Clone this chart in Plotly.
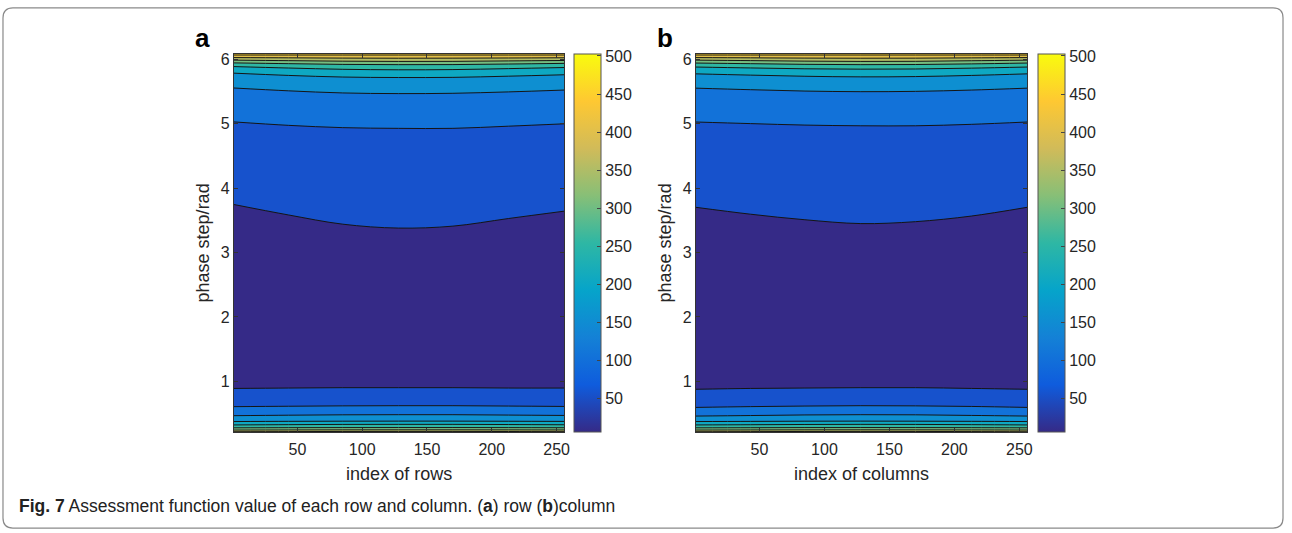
import plotly.graph_objects as go

# ---------------- data ----------------
x_cols = [1, 43, 85, 128, 170, 213, 256]

# panel a: phase-step rows and assessment values per column
y_a = [0.21, 0.245, 0.28, 0.33, 0.38, 0.48, 0.62, 0.90, 1.5, 2.2, 3.0, 3.38,
       4.93, 5.47, 5.72, 5.84, 5.92, 5.97, 6.02, 6.07, 6.09]
z_a = [
    [410, 415, 419, 420, 420, 417, 413],
    [343, 346, 349, 350, 350, 348, 345],
    [294, 297, 299, 300, 300, 298, 296],
    [240, 245, 249, 250, 250, 247, 243],
    [194, 197, 199, 200, 200, 198, 196],
    [142, 146, 149, 150, 150, 147, 144],
    [95, 97, 99, 100, 100, 98, 96],
    [48, 49, 50, 50, 50, 49, 49],
    [20, 20, 20, 20, 20, 20, 20],
    [7, 7, 7, 7, 7, 7, 7],
    [22, 26, 29, 30, 30, 27, 24],
    [37, 43, 48, 50, 49, 45, 41],
    [92, 96, 99, 100, 100, 97, 94],
    [135, 142, 148, 150, 149, 145, 140],
    [178, 188, 197, 200, 199, 192, 185],
    [217, 232, 245, 250, 248, 238, 227],
    [270, 284, 296, 300, 299, 290, 279],
    [325, 336, 346, 350, 349, 341, 332],
    [388, 393, 398, 400, 399, 396, 392],
    [450, 450, 450, 450, 450, 450, 450],
    [465, 467, 469, 470, 470, 468, 466],
]

# panel b
y_b = [0.21, 0.245, 0.28, 0.33, 0.38, 0.48, 0.62, 0.90, 1.5, 2.2, 3.0, 3.45,
       4.97, 5.5, 5.73, 5.85, 5.92, 5.97, 6.02, 6.07, 6.09]
z_b = [
    [410, 414, 418, 420, 419, 415, 410],
    [343, 346, 349, 350, 349, 347, 343],
    [294, 296, 299, 300, 299, 297, 294],
    [240, 244, 248, 250, 249, 245, 240],
    [194, 196, 199, 200, 199, 197, 194],
    [138, 143, 148, 150, 149, 144, 138],
    [91, 95, 98, 100, 99, 96, 91],
    [46, 48, 49, 50, 50, 48, 46],
    [20, 20, 20, 20, 20, 20, 20],
    [7, 7, 7, 7, 7, 7, 7],
    [22, 24, 27, 28, 27, 25, 22],
    [41, 45, 48, 50, 49, 46, 41],
    [95, 97, 99, 100, 100, 98, 95],
    [140, 144, 148, 150, 149, 145, 140],
    [182, 189, 196, 200, 198, 191, 182],
    [228, 237, 246, 250, 248, 239, 228],
    [275, 285, 295, 300, 298, 288, 275],
    [325, 335, 345, 350, 348, 338, 325],
    [388, 393, 398, 400, 399, 394, 388],
    [450, 450, 450, 450, 450, 450, 450],
    [465, 467, 469, 470, 470, 468, 465],
]

cbar_range = [6, 503]
cbar_ticks = [50, 100, 150, 200, 250, 300, 350, 400, 450, 500]
x_ticks = [50, 100, 150, 200, 250]
y_ticks = [1, 2, 3, 4, 5, 6]
x_titles = ["index of rows", "index of columns"]
panel_labels = ["a", "b"]

# ---------------- styling ----------------
parula = [
    [0.000, "#352a87"], [0.125, "#0f5cdd"], [0.250, "#1481d6"],
    [0.375, "#06a4ca"], [0.500, "#2eb7a4"], [0.625, "#87bf77"],
    [0.750, "#d1bb59"], [0.875, "#fec832"], [1.000, "#f9fb0e"],
]
W, H = 1292, 533
FONT = "Liberation Sans, Arial, sans-serif"
TXT = "#262626"

def px(v):
    return v / W

def py(v):
    return 1 - v / H

panels = [
    dict(x0=235, x1=567, cb=577),
    dict(x0=699, x1=1032, cb=1043),
]
ytop, ybot = 51, 431.5

fig = go.Figure()
datasets = [(y_a, z_a), (y_b, z_b)]
for i, (yy, zz) in enumerate(datasets):
    xa = "x" if i == 0 else "x2"
    ya = "y" if i == 0 else "y2"
    fig.add_trace(go.Contour(
        x=x_cols, y=yy, z=zz, xaxis=xa, yaxis=ya,
        colorscale=parula, showscale=False,
        contours=dict(start=50, end=500, size=50, coloring="fill"),
        line=dict(color="#151515", width=1.0),
        hoverinfo="skip",
    ))
    p = panels[i]
    fig.add_trace(go.Scatter(
        x=[None, None], y=[None, None], xaxis=xa, yaxis=ya, mode="markers",
        showlegend=False, hoverinfo="skip",
        marker=dict(
            color=cbar_range, cmin=cbar_range[0], cmax=cbar_range[1],
            colorscale=parula, showscale=True,
            colorbar=dict(
                x=px(p["cb"]), xanchor="left", xpad=0,
                y=py(ytop), yanchor="top", ypad=0,
                len=(ybot - ytop) / H, lenmode="fraction",
                thickness=27, thicknessmode="pixels",
                outlinewidth=1, outlinecolor="#555555",
                tickvals=cbar_ticks, ticks="inside", ticklen=4,
                tickcolor="#444444",
                tickfont=dict(family=FONT, size=16, color=TXT),
            ),
        ),
    ))

axis_common = dict(
    ticks="inside", ticklen=4, tickcolor="#333333", mirror="ticks",
    showline=True, linecolor="#333333", linewidth=1, showgrid=False,
    zeroline=False, tickfont=dict(family=FONT, size=16, color=TXT),
)
for i, p in enumerate(panels):
    sfx = "" if i == 0 else "2"
    fig.update_layout({
        "xaxis" + sfx: dict(
            axis_common, domain=[px(p["x0"]), px(p["x1"])], range=[1, 256],
            tickvals=x_ticks, anchor="y" + sfx, ticklabelstandoff=3,
            title=dict(text=x_titles[i], font=dict(family=FONT, size=18, color=TXT),
                       standoff=10),
        ),
        "yaxis" + sfx: dict(
            axis_common, domain=[py(ybot), py(ytop)], range=[0.21, 6.09],
            tickvals=y_ticks, anchor="x" + sfx,
            title=dict(text="phase step/rad", font=dict(family=FONT, size=18, color=TXT),
                       standoff=6),
        ),
    })
    fig.add_annotation(
        xref="paper", yref="paper", x=px(p["x0"] - 41), y=py(35),
        text="<b>%s</b>" % panel_labels[i], showarrow=False,
        xanchor="left", yanchor="middle",
        font=dict(family=FONT, size=26, color="#000000"),
    )

fig.add_annotation(
    xref="paper", yref="paper", x=px(17), y=py(506),
    text="<b>Fig. 7</b> Assessment function value of each row and column. (<b>a</b>) row (<b>b</b>)column",
    showarrow=False, xanchor="left", yanchor="middle",
    font=dict(family=FONT, size=17.5, color="#222222"),
)

# rounded outer frame
r = 10
x0, x1, y0, y1 = 3, 1289, 5, 528
path = (
    f"M {px(x0 + r)},{py(y0)} L {px(x1 - r)},{py(y0)} "
    f"Q {px(x1)},{py(y0)} {px(x1)},{py(y0 + r)} "
    f"L {px(x1)},{py(y1 - r)} Q {px(x1)},{py(y1)} {px(x1 - r)},{py(y1)} "
    f"L {px(x0 + r)},{py(y1)} Q {px(x0)},{py(y1)} {px(x0)},{py(y1 - r)} "
    f"L {px(x0)},{py(y0 + r)} Q {px(x0)},{py(y0)} {px(x0 + r)},{py(y0)} Z"
)
fig.add_shape(type="path", xref="paper", yref="paper", path=path,
              line=dict(color="#8a8a8a", width=1.2))

fig.update_layout(
    width=W, height=H, margin=dict(l=0, r=0, t=0, b=0),
    paper_bgcolor="white", plot_bgcolor="white", showlegend=False,
)

fig.write_html(
    "out.html",
    config={"displayModeBar": False, "staticPlot": True},
    post_script="document.body.style.margin='0';document.body.style.overflow='hidden';",
)
